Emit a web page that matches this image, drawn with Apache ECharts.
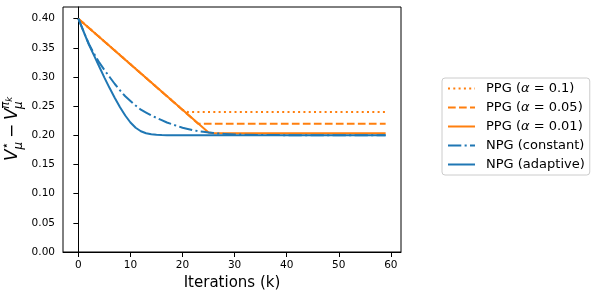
<!DOCTYPE html>
<html>
<head>
<meta charset="utf-8">
<script src="https://cdn.jsdelivr.net/npm/echarts@6/dist/echarts.min.js"></script>
<style>
html,body{margin:0;padding:0;background:#fff;}
#chart{width:598px;height:298px;}
</style>
</head>
<body>
<div id="chart"></div>
<script>
// ---- data ----
const xTicks = [0, 10, 20, 30, 40, 50, 60];
const yTicks = [0, 0.05, 0.10, 0.15, 0.20, 0.25, 0.30, 0.35, 0.40];

const seriesNames = ['PPG (α = 0.1)', 'PPG (α = 0.05)', 'PPG (α = 0.01)', 'NPG (constant)', 'NPG (adaptive)'];

const ppg01K = [0, 20, 21, 59];
const ppg01V = [0.400, 0.244, 0.240, 0.240];

const ppg005K = [0, 22, 23, 59];
const ppg005V = [0.400, 0.228, 0.220, 0.220];

const ppg001K = [0, 25, 26, 59];
const ppg001V = [0.400, 0.205, 0.2035, 0.2035];

const npgConstK = [0, 1, 2, 3, 4, 5, 6, 7, 8, 9, 10, 11, 12, 13, 14, 15, 16, 17, 18, 19, 20,
                   21, 22, 23, 24, 25, 26, 27, 28, 29, 30, 35, 40, 45, 50, 59];
const npgConstV = [0.400, 0.378, 0.357, 0.340, 0.325, 0.312, 0.300, 0.288, 0.277, 0.267, 0.259,
                   0.251, 0.244, 0.239, 0.234, 0.230, 0.226, 0.222, 0.219, 0.216, 0.213,
                   0.211, 0.209, 0.207, 0.206, 0.205, 0.204, 0.203, 0.2025, 0.202, 0.2015,
                   0.2007, 0.2003, 0.2001, 0.2000, 0.2000];

const npgAdaptK = [0, 1, 2, 3, 4, 5, 6, 7, 8, 9, 10, 11, 12, 13, 14, 15, 16, 17, 18, 20, 25, 30, 40, 50, 59];
const npgAdaptV = [0.400, 0.378, 0.356, 0.337, 0.318, 0.299, 0.281, 0.264, 0.248, 0.234, 0.222,
                   0.213, 0.207, 0.2035, 0.2017, 0.2008, 0.2004, 0.2002, 0.2001, 0.2000, 0.2000,
                   0.2000, 0.2000, 0.2000, 0.2000];

// ---- build ----
function pairs(k, v) { return k.map((x, i) => [x, v[i]]); }
const ORANGE = '#ff7f0e', BLUE = '#1f77b4';
const FONT = 'DejaVu Sans';
const LW = 2;

function line(name, k, v, color, dash) {
  return {
    name: name, type: 'line', data: pairs(k, v), symbol: 'none', smooth: false,
    animation: false, clip: true,
    lineStyle: { color: color, width: LW, type: dash, cap: 'butt' },
    itemStyle: { color: color }
  };
}

const chart = echarts.init(document.getElementById('chart'), null, { renderer: 'canvas' });

const legendRich = {
  n: { fontFamily: FONT, fontSize: 13, color: '#000' },
  i: { fontFamily: FONT, fontSize: 13, fontStyle: 'italic', color: '#000' }
};

const option = {
  animation: false,
  backgroundColor: '#fff',
  grid: { left: 63, top: 7, width: 338, height: 245, show: true, borderColor: '#000', borderWidth: 1, backgroundColor: 'transparent' },
  xAxis: {
    type: 'value', min: -2.95, max: 61.95,
    name: 'Iterations (k)', nameLocation: 'middle', nameGap: 24,
    nameTextStyle: { fontFamily: FONT, fontSize: 15, color: '#000' },
    axisLine: { show: true, lineStyle: { color: '#000', width: 1 } },
    axisTick: { show: true, length: 5, lineStyle: { color: '#000', width: 1 }, customValues: xTicks },
    axisLabel: { customValues: xTicks, fontFamily: FONT, fontSize: 10.5, color: '#000', margin: 8 },
    splitLine: { show: false }
  },
  yAxis: {
    type: 'value', min: 0, max: 0.42,
    axisLine: { show: true, lineStyle: { color: '#000', width: 1 } },
    axisTick: { show: true, length: 5, lineStyle: { color: '#000', width: 1 }, customValues: yTicks },
    axisLabel: { customValues: yTicks, fontFamily: FONT, fontSize: 10.5, color: '#000', margin: 8,
                 formatter: v => v.toFixed(2) },
    splitLine: { show: false }
  },
  legend: {
    orient: 'vertical', left: 442, top: 78,
    padding: [4, 5, 4, 5], itemGap: 6, itemWidth: 27, itemHeight: 14,
    borderColor: '#cccccc', borderWidth: 1, borderRadius: 3, backgroundColor: 'rgba(255,255,255,0.8)',
    data: seriesNames,
    itemStyle: { color: 'rgba(0,0,0,0)', borderWidth: 0, opacity: 0 },
    textStyle: { fontFamily: FONT, fontSize: 13, color: '#000', padding: [0, 0, 0, 6], rich: legendRich },
    formatter: function (name) {
      const m = name.match(/^PPG \(α = (.*)\)$/);
      if (m) return '{n|PPG (}{i|α}{n| = ' + m[1] + ')}';
      return '{n|' + name + '}';
    }
  },
  series: [
    line(seriesNames[0], ppg01K, ppg01V, ORANGE, [2, 3.3]),
    line(seriesNames[1], ppg005K, ppg005V, ORANGE, [7.7, 3.3]),
    line(seriesNames[2], ppg001K, ppg001V, ORANGE, 'solid'),
    line(seriesNames[3], npgConstK, npgConstV, BLUE, [13.3, 3.3, 2.1, 3.3]),
    line(seriesNames[4], npgAdaptK, npgAdaptV, BLUE, 'solid')
  ],
  graphic: [{
    type: 'group', x: 13, y: 121, rotation: Math.PI / 2,
    children: [
      { type: 'text', x: -40, y: 0, style: { text: 'V', font: 'italic 17px "DejaVu Sans"', fill: '#000', verticalAlign: 'middle' } },
      { type: 'text', x: -28.5, y: -7, style: { text: '⋆', font: '12px "DejaVu Sans"', fill: '#000', verticalAlign: 'middle' } },
      { type: 'text', x: -28.5, y: 6, style: { text: 'μ', font: 'italic 12px "DejaVu Sans"', fill: '#000', verticalAlign: 'middle' } },
      { type: 'text', x: -17, y: 0, style: { text: '−', font: '17px "DejaVu Sans"', fill: '#000', verticalAlign: 'middle' } },
      { type: 'text', x: 1, y: 0, style: { text: 'V', font: 'italic 17px "DejaVu Sans"', fill: '#000', verticalAlign: 'middle' } },
      { type: 'text', x: 12, y: -7, style: { text: 'π', font: 'italic 12px "DejaVu Sans"', fill: '#000', verticalAlign: 'middle' } },
      { type: 'text', x: 19.2, y: -3.5, style: { text: 'k', font: 'italic 8.5px "DejaVu Sans"', fill: '#000', verticalAlign: 'middle' } },
      { type: 'text', x: 12, y: 6, style: { text: 'μ', font: 'italic 12px "DejaVu Sans"', fill: '#000', verticalAlign: 'middle' } }
    ]
  }]
};
chart.setOption(option);
</script>
</body>
</html>
